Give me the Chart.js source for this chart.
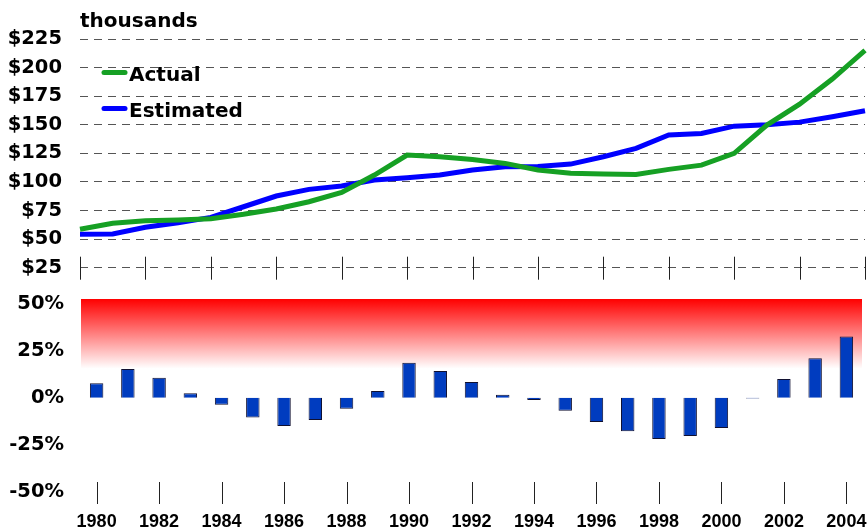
<!DOCTYPE html>
<html>
<head>
<meta charset="utf-8">
<script src="https://cdn.jsdelivr.net/npm/chart.js@4.4.1/dist/chart.umd.min.js"></script>
<style>
  html, body { margin: 0; padding: 0; background: #ffffff; }
  #wrap { position: relative; width: 867px; height: 531px; }
  #top { position: absolute; left: 0; top: 0; width: 867px; height: 285px; }
  #bot { position: absolute; left: 0; top: 285px; width: 867px; height: 246px; }
</style>
</head>
<body>
<div id="wrap">
  <div id="top"><canvas id="c1"></canvas></div>
  <div id="bot"><canvas id="c2"></canvas></div>
</div>
<script>
// ---- data ----
const years = [1980,1981,1982,1983,1984,1985,1986,1987,1988,1989,1990,1991,1992,
               1993,1994,1995,1996,1997,1998,1999,2000,2001,2002,2003,2004];
const actual = [58.6, 63.8, 66, 66.7, 67.8, 71.7, 76.3, 82.7, 90.9, 106, 123.5, 122, 119.7,
                116.2, 110.4, 107.5, 106.9, 106.6, 111, 114.7, 125, 149.7, 168, 190, 215];
const estimated = [54.2, 54.5, 60.3, 64.3, 69, 78.3, 87.7, 93.5, 96.4, 101.7, 103.7, 106, 110.4,
                   113.2, 113.5, 115.6, 122, 129.3, 141, 142.4, 148.8, 150, 152.3, 157, 162.2];
const diffPct = [7.7, 15.3, 10.7, 2.4, -3.7, -10.5, -15, -11.8, -5.8, 3.7, 18.7, 14.2, 8.4,
                 1.6, -1.2, -6.8, -12.8, -17.7, -21.8, -20.2, -16, -0.4, 10, 21, 32.6];
const topTicks = [25, 50, 75, 100, 125, 150, 175, 200, 225];
const botTicks = [-50, -25, 0, 25, 50];
const unitLabel = 'thousands';

const FONT = '"DejaVu Sans", Arial, sans-serif';
const FONT2 = 'Arial, "Liberation Sans", Helvetica, sans-serif';
const GREEN = '#16a024';
const BLUE = '#0000ff';

Chart.defaults.font.family = FONT;
Chart.defaults.color = '#000000';

// ---- top chart decorations: tick marks, unit label, legend ----
const topDecor = {
  id: 'topDecor',
  afterDatasetsDraw(chart) {
    const ctx = chart.ctx;
    const xs = chart.scales.x, ys = chart.scales.y;
    const y0 = ys.getPixelForValue(25);
    ctx.save();
    ctx.strokeStyle = '#222222';
    ctx.lineWidth = 1;
    years.forEach((yr, i) => {
      if (yr % 2 !== 0) return;
      const x = Math.round(xs.getPixelForValue(i)) + 0.5;
      ctx.beginPath();
      ctx.moveTo(x, y0 - 11);
      ctx.lineTo(x, y0 + 12);
      ctx.stroke();
    });
    ctx.fillStyle = '#000';
    ctx.font = 'bold 20px ' + FONT;
    ctx.textAlign = 'left';
    ctx.textBaseline = 'alphabetic';
    ctx.fillText(unitLabel, chart.chartArea.left, 27);
    const items = chart.data.datasets;
    const rows = [72.5, 108.5];
    items.forEach((ds, k) => {
      const y = rows[k];
      ctx.strokeStyle = ds.borderColor;
      ctx.lineWidth = 5;
      ctx.lineCap = 'round';
      ctx.beginPath();
      ctx.moveTo(104, y);
      ctx.lineTo(125, y);
      ctx.stroke();
      ctx.fillStyle = '#000';
      ctx.font = 'bold 20px ' + FONT;
      ctx.fillText(ds.label, 129, y + 8.5);
    });
    ctx.restore();
  }
};

new Chart(document.getElementById('c1'), {
  type: 'line',
  data: {
    labels: years,
    datasets: [
      { label: 'Actual', data: actual, borderColor: GREEN, borderWidth: 5, pointRadius: 0, tension: 0, fill: false },
      { label: 'Estimated', data: estimated, borderColor: BLUE, borderWidth: 5, pointRadius: 0, tension: 0, fill: false }
    ]
  },
  options: {
    responsive: true,
    maintainAspectRatio: false,
    animation: false,
    layout: { padding: { top: 39, bottom: 17.3, left: 0, right: 2 } },
    plugins: { legend: { display: false }, title: { display: false }, tooltip: { enabled: false } },
    scales: {
      x: { display: false, offset: false },
      y: {
        min: 25, max: 225,
        afterFit(s) { s.width = 80; s.paddingTop = 0; s.paddingBottom = 0; },
        afterBuildTicks(s) { s.ticks = topTicks.map(v => ({ value: v })); },
        grid: { color: '#555555', lineWidth: 1, drawTicks: false },
        border: { display: false, dash: [8, 6] },
        ticks: {
          padding: 18,
          font: { size: 19.5, weight: 'bold' },
          color: '#000',
          callback: v => '$' + v
        }
      }
    }
  },
  plugins: [topDecor]
});

// ---- bottom chart decorations: gradient band, tick marks ----
const botDecor = {
  id: 'botDecor',
  beforeDatasetsDraw(chart) {
    const ctx = chart.ctx;
    const a = chart.chartArea;
    const ys = chart.scales.y;
    const yb = ys.getPixelForValue(15.5);
    const g = ctx.createLinearGradient(0, a.top, 0, yb);
    g.addColorStop(0, '#ff0000');
    g.addColorStop(1, '#ffffff');
    ctx.save();
    ctx.fillStyle = g;
    ctx.fillRect(a.left, a.top, a.right - a.left, yb - a.top);
    ctx.restore();
  },
  afterDatasetsDraw(chart) {
    const ctx = chart.ctx;
    const xs = chart.scales.x, ys = chart.scales.y;
    const yb = ys.getPixelForValue(-50);
    ctx.save();
    ctx.strokeStyle = '#222222';
    ctx.lineWidth = 1;
    years.forEach((yr, i) => {
      if (yr % 2 !== 0) return;
      const x = Math.round(xs.getPixelForValue(i)) + 0.5;
      ctx.beginPath();
      ctx.moveTo(x, yb - 10);
      ctx.lineTo(x, yb + 12);
      ctx.stroke();
    });
    ctx.restore();
  }
};

new Chart(document.getElementById('c2'), {
  type: 'bar',
  data: {
    labels: years,
    datasets: [
      { label: 'Difference', data: diffPct, backgroundColor: '#003cbf', borderColor: '#101030',
        borderWidth: 1, barPercentage: 0.43, categoryPercentage: 1.0 }
    ]
  },
  options: {
    responsive: true,
    maintainAspectRatio: false,
    animation: false,
    layout: { padding: { top: 14, bottom: 0, left: 0, right: 5 } },
    plugins: { legend: { display: false }, title: { display: false }, tooltip: { enabled: false } },
    scales: {
      x: {
        offset: true,
        afterFit(s) { s.height = 39; s.paddingLeft = 0; s.paddingRight = 0; },
        grid: { display: false, drawTicks: false },
        border: { display: false },
        ticks: {
          autoSkip: false,
          maxRotation: 0,
          padding: 19,
          font: { family: FONT2, size: 18, weight: 'bold' },
          color: '#000',
          callback(v, i) { return years[i] % 2 === 0 ? String(years[i]) : null; }
        }
      },
      y: {
        min: -50, max: 52.5,
        afterFit(s) { s.width = 81; s.paddingTop = 0; s.paddingBottom = 0; },
        afterBuildTicks(s) { s.ticks = botTicks.map(v => ({ value: v })); },
        grid: { display: false, drawTicks: false },
        border: { display: false },
        ticks: {
          padding: 17,
          font: { size: 19.5, weight: 'bold' },
          color: '#000',
          callback: v => v + '%'
        }
      }
    }
  },
  plugins: [botDecor]
});
</script>
</body>
</html>
